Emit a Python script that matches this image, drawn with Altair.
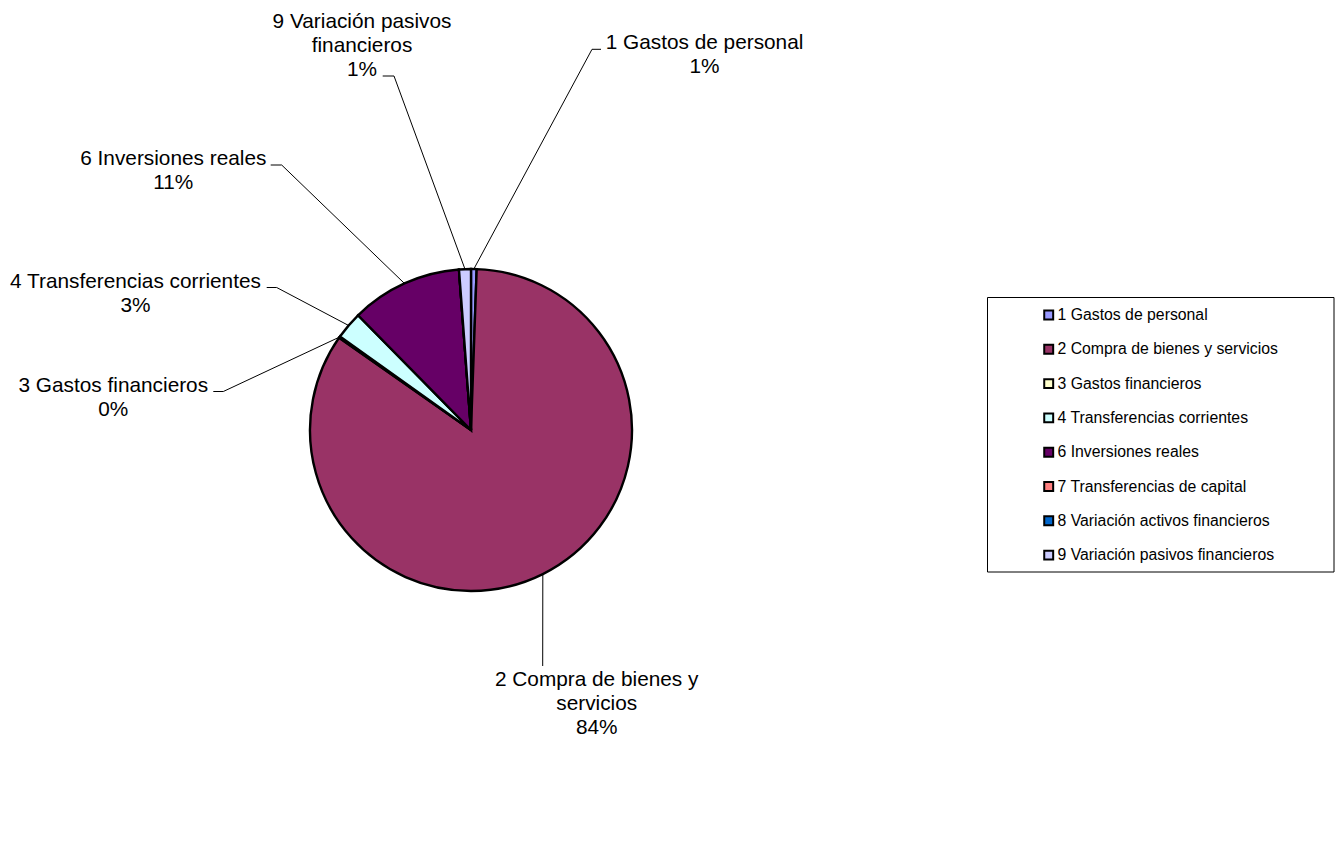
import math
import altair as alt
import pandas as pd

# ---------------- data ----------------
categories = [
    "1 Gastos de personal",
    "2 Compra de bienes y servicios",
    "3 Gastos financieros",
    "4 Transferencias corrientes",
    "6 Inversiones reales",
    "7 Transferencias de capital",
    "8 Variación activos financieros",
    "9 Variación pasivos financieros",
]
shares = [0.56, 84.05, 0.15, 2.75, 11.17, 0.0, 0.0, 1.19]
colors = ["#9999FF", "#993366", "#FFFFCC", "#CCFFFF", "#660066", "#FF8080", "#0066CC", "#CCCCFF"]
# wrapped names used for the data labels (None = no label)
label_names = [
    "1 Gastos de personal",
    "2 Compra de bienes y\nservicios",
    "3 Gastos financieros",
    "4 Transferencias corrientes",
    "6 Inversiones reales",
    None,
    None,
    "9 Variación pasivos\nfinancieros",
]

# ---------------- layout (pixels) ----------------
W, H = 1343, 864
CX, CY, R = 471, 430, 161
FONT = "Liberation Sans"
# text centre x, first baseline y, leader elbow: start x, end x, y
LABEL_LAYOUT = {
    "1 Gastos de personal": (704.5, 49.3, 601.0, 592.0, 49.3),
    "2 Compra de bienes y servicios": (596.7, 686.0, 542.7, 542.7, 666.0),
    "3 Gastos financieros": (113.3, 392.0, 213.3, 223.3, 391.5),
    "4 Transferencias corrientes": (135.5, 287.5, 266.7, 276.7, 287.5),
    "6 Inversiones reales": (173.3, 165.0, 270.7, 281.7, 165.0),
    "9 Variación pasivos financieros": (362.0, 28.3, 382.7, 394.0, 76.0),
}
LEG_BOX = (987.5, 297.5, 1334.0, 572.0)
LEG_SWATCH_X, LEG_TEXT_X, LEG_Y0, LEG_DY = 1048.7, 1057.5, 315.0, 34.3

# ---------------- tables ----------------
total = sum(shares)
rows = []
cum = 0.0
for i, (c, v) in enumerate(zip(categories, shares)):
    rows.append({"cat": c, "idx": i, "start": cum, "end": cum + v, "value": v})
    cum += v
pie_df = pd.DataFrame(rows)

text_rows, rule_rows = [], []
for r in rows:
    name = label_names[r["idx"]]
    if name is None:
        continue
    pct = round(r["value"] / total * 100)
    tx, ty, ex0, ex1, ey = LABEL_LAYOUT[r["cat"]]
    text_rows.append({"cat": r["cat"], "tx": tx, "ty": ty, "label": f"{name}\n{pct}%"})
    mid = (r["start"] + r["end"]) / 2 / total * 2 * math.pi
    px = CX + R * math.sin(mid)
    py = CY - R * math.cos(mid)
    if ex0 != ex1:
        rule_rows.append({"x": ex0, "y": ey, "x2": ex1, "y2": ey})
    rule_rows.append({"x": ex1, "y": ey, "x2": px, "y2": py})
text_df = pd.DataFrame(text_rows)
rule_df = pd.DataFrame(rule_rows)

leg_df = pd.DataFrame({
    "cat": categories,
    "lx": [LEG_SWATCH_X] * len(categories),
    "tx": [LEG_TEXT_X] * len(categories),
    "ly": [LEG_Y0 + i * LEG_DY for i in range(len(categories))],
})
box_df = pd.DataFrame([{"x": LEG_BOX[0], "y": LEG_BOX[1], "x2": LEG_BOX[2], "y2": LEG_BOX[3]}])

XS = alt.Scale(domain=[0, W], nice=False, zero=False)
YS = alt.Scale(domain=[0, H], nice=False, zero=False, reverse=True)
color_scale = alt.Scale(domain=categories, range=colors)

pie = alt.Chart(pie_df).mark_arc(outerRadius=R, stroke="black", strokeWidth=2.4, strokeJoin="miter").encode(
    x=alt.X(datum=CX, type="quantitative", scale=XS, axis=None),
    y=alt.Y(datum=CY, type="quantitative", scale=YS, axis=None),
    theta=alt.Theta("start:Q", scale=alt.Scale(domain=[0, total], range=[0, 2 * math.pi], nice=False, zero=True)),
    theta2="end:Q",
    color=alt.Color("cat:N", scale=color_scale, legend=None),
)

rules = alt.Chart(rule_df).mark_rule(color="black", strokeWidth=1).encode(
    x=alt.X("x:Q", scale=XS, axis=None),
    y=alt.Y("y:Q", scale=YS, axis=None),
    x2="x2:Q",
    y2="y2:Q",
)

labels = alt.Chart(text_df).mark_text(
    font=FONT, fontSize=20.8, align="center", baseline="alphabetic",
    lineBreak="\n", lineHeight=24, color="black",
).encode(
    x=alt.X("tx:Q", scale=XS, axis=None),
    y=alt.Y("ty:Q", scale=YS, axis=None),
    text="label:N",
)

box = alt.Chart(box_df).mark_rect(fill="white", stroke="black", strokeWidth=1).encode(
    x=alt.X("x:Q", scale=XS, axis=None),
    y=alt.Y("y:Q", scale=YS, axis=None),
    x2="x2:Q",
    y2="y2:Q",
)

swatches = alt.Chart(leg_df).mark_point(
    shape="square", filled=True, size=80, stroke="black", strokeWidth=2, opacity=1,
).encode(
    x=alt.X("lx:Q", scale=XS, axis=None),
    y=alt.Y("ly:Q", scale=YS, axis=None),
    fill=alt.Fill("cat:N", scale=color_scale, legend=None),
)

leg_text = alt.Chart(leg_df).mark_text(
    font=FONT, fontSize=15.8, align="left", baseline="middle", color="black",
).encode(
    x=alt.X("tx:Q", scale=XS, axis=None),
    y=alt.Y("ly:Q", scale=YS, axis=None),
    text="cat:N",
)

chart = alt.layer(pie, rules, labels, box, swatches, leg_text).properties(
    width=W, height=H,
    autosize=alt.AutoSizeParams(type="none"),
    padding=0,
    background="white",
).configure_view(stroke=None)

chart.save("out.html", embed_options={"renderer": "svg", "actions": False})
